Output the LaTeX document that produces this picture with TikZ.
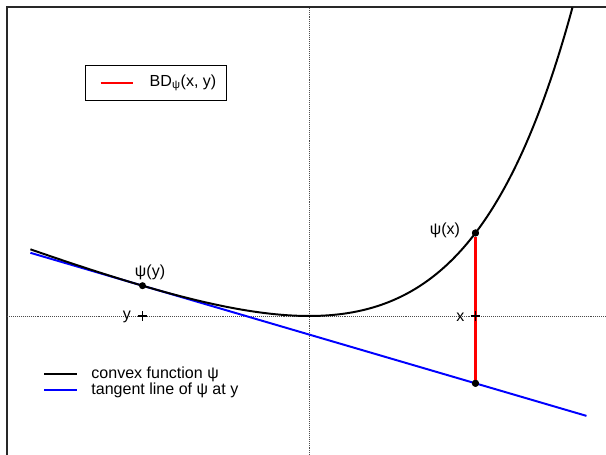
\documentclass[tikz,border=0pt]{standalone}
\usepackage{fontspec}
\setmainfont{Liberation Sans}
\usetikzlibrary{arrows.meta}

\begin{document}
\begin{tikzpicture}[x=2.775cm, y=1.0475cm,
  lbl/.style={font=\fontsize{11.4}{13.7}\selectfont, inner sep=1pt},
  refline/.style={densely dotted, thin, black!70},
  dot/.style={circle, fill=black, inner sep=0pt, minimum size=5pt}]

\definecolor{framecolor}{RGB}{40, 40, 40}
\definecolor{bdcolor}{RGB}{255, 0, 0}
\definecolor{tancolor}{RGB}{0, 0, 255}

\useasboundingbox (-2.784, -3.317) rectangle (2.676, 7.542);

% plot box and reference lines
\draw[framecolor, line width=0.9pt] (-2.721, -3.317) -- (-2.721, 7.375) -- (2.676, 7.375);
\draw[refline] (-2.721, 0) -- (2.676, 0);
\draw[refline] (0, -3.317) -- (0, 7.375);

% psi(t) = exp(t) - t - 1 and its tangent at y = -1.5
\pgfmathsetmacro{\py}{exp(-1.5) + 0.5}
\pgfmathsetmacro{\slope}{exp(-1.5) - 1}
\pgfmathsetmacro{\px}{exp(1.5) - 2.5}
\pgfmathsetmacro{\tx}{\py + 3*\slope}

\draw[tancolor, line width=1.4pt] (-2.51, {\py + \slope*(-1.01)}) -- (2.5, {\py + \slope*4});
\draw[black, line width=1.4pt, smooth, samples=160, domain=-2.51:2.375]
  plot (\x, {exp(\x) - \x - 1});

\coordinate (ya) at (-1.5, 0);
\coordinate (xa) at (1.5, 0);
\node[dot] (psiy) at (-1.5, \py) {};
\node[dot] (psix) at (1.5, \px) {};
\node[dot] (tanx) at (1.5, \tx) {};

\draw[bdcolor, line width=2pt] (psix) -- (tanx);
\node[dot] at (psix) {};
\node[dot] at (tanx) {};

\draw[line width=0.8pt] (ya) ++(-3.5pt, 0) -- ++(7pt, 0) (ya) ++(0, -3.5pt) -- ++(0, 7pt);
\draw[line width=0.8pt] (xa) ++(-3.5pt, 0) -- ++(7pt, 0) (xa) ++(0, -3.5pt) -- ++(0, 7pt);

\node[lbl] (ylbl) at (-1.64, -0.02) {y};
\node[lbl] (xlbl) at (1.365, -0.02) {x};
\node[lbl] (psiylbl) at (-1.432, 1.05) {ψ(y)};
\node[lbl] (psixlbl) at (1.225, 2.05) {ψ(x)};

% legend with box
\draw[black, line width=0.6pt] (-2.012, 5.138) rectangle (-0.741, 5.990);
\coordinate (bdl) at (-1.877, 5.561);
\coordinate (bdr) at (-1.586, 5.561);
\draw[bdcolor, line width=1pt] (bdl) -- (bdr);
\node[lbl, anchor=west] (bdtext) at (-1.45, 5.561) {BD\textsubscript{ψ}(x, y)};

% legend without box
\coordinate (fl) at (-2.387, -1.384);
\coordinate (fr) at (-2.090, -1.384);
\coordinate (tl) at (-2.387, -1.766);
\coordinate (tr) at (-2.090, -1.766);
\draw[black, line width=1pt] (fl) -- (fr);
\draw[tancolor, line width=1pt] (tl) -- (tr);
\node[lbl, anchor=west] (ftext) at (-1.975, -1.384) {convex function ψ};
\node[lbl, anchor=west] (ttext) at (-1.975, -1.766) {tangent line of ψ at y};

\end{tikzpicture}
\end{document}
